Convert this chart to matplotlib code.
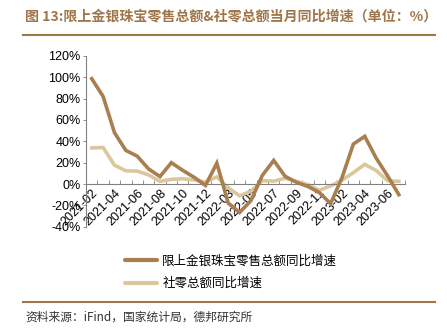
import matplotlib.pyplot as plt
from matplotlib.lines import Line2D

plt.rcParams['font.family'] = ['Liberation Sans', 'Noto Sans CJK SC', 'DejaVu Sans']

# Monthly year-on-year growth (%), Jan folded into Feb
months = ["2021-02", "2021-03", "2021-04", "2021-05", "2021-06", "2021-07", "2021-08",
          "2021-09", "2021-10", "2021-11", "2021-12", "2022-02", "2022-03", "2022-04",
          "2022-05", "2022-06", "2022-07", "2022-08", "2022-09", "2022-10", "2022-11",
          "2022-12", "2023-02", "2023-03", "2023-04", "2023-05", "2023-06", "2023-07"]
jewelry = [98.7, 82.1, 48.1, 31.5, 26.1, 14.1, 7.0, 20.0, 12.8, 6.3, -1.3, 19.5, -17.9, -26.7,
           -15.5, 8.1, 22.1, 7.2, 1.6, -2.3, -7.9, -18.4, 5.9, 37.4, 44.7, 24.4, 7.8, -10.0]
retail = [33.8, 34.2, 17.7, 12.4, 12.1, 8.5, 2.5, 4.4, 4.9, 3.9, 1.7, 6.7, -3.5, -11.1,
          -6.7, 3.1, 2.7, 5.4, 2.5, -0.5, -5.9, -1.8, 3.5, 10.6, 18.4, 12.7, 3.1, 2.5]
yticks = [-40, -20, 0, 20, 40, 60, 80, 100, 120]

dark = "#A97F50"
light = "#DCC79D"
brown = "#A0754A"

fig = plt.figure(figsize=(4.47, 3.35), dpi=100)
ax = fig.add_axes([0.1925, 0.3233, 0.7125, 0.5096])

x = list(range(len(months)))
ax.plot(x, jewelry, color=dark, lw=2.6, solid_joinstyle='miter', zorder=3)
ax.plot(x, retail, color=light, lw=2.6, solid_joinstyle='miter', zorder=2)

ax.set_xlim(-0.5, len(months) - 0.5)
ax.set_ylim(-40, 120)
ax.set_yticks(yticks)
ax.set_yticklabels([f"{v}%" for v in yticks], fontsize=9)
ax.tick_params(axis='y', length=2, width=0.6, color='#808080', pad=2)

for s in ['top', 'right']:
    ax.spines[s].set_visible(False)
ax.spines['left'].set_color('#808080')
ax.spines['left'].set_linewidth(0.8)
ax.spines['bottom'].set_position(('data', 0))
ax.spines['bottom'].set_color('#808080')
ax.spines['bottom'].set_linewidth(0.8)

ax.set_xticks(x[::2])
ax.set_xticklabels(months[::2], rotation=45, ha='right', va='top',
                   rotation_mode='anchor', fontsize=9)
ax.set_xticks([i - 0.5 for i in range(len(months) + 1)], minor=True)
ax.tick_params(axis='x', which='major', length=0, pad=2)
ax.tick_params(axis='x', which='minor', direction='in', length=3, width=0.6, color='#808080')

handles = [Line2D([], [], color=dark, lw=3, solid_capstyle='round'),
           Line2D([], [], color=light, lw=3, solid_capstyle='round')]
fig.legend(handles, ["限上金银珠宝零售总额同比增速", "社零总额同比增速"],
           loc='upper left', bbox_to_anchor=(0.265, 0.258), frameon=False,
           prop={'family': ['Noto Sans CJK SC'], 'size': 9},
           handlelength=2.6, handletextpad=0.4, labelspacing=0.75, borderpad=0)

fig.text(0.056, 0.952, "图 13:限上金银珠宝零售总额&社零总额当月同比增速（单位：%）",
         fontsize=10.1, fontweight='bold', color=brown, ha='left', va='center',
         family=['Noto Sans CJK SC', 'DejaVu Sans'])
fig.add_artist(Line2D([0.052, 0.973], [0.895, 0.895], color=brown, lw=1.5))
fig.add_artist(Line2D([0.052, 0.973], [0.099, 0.099], color=brown, lw=1.5))
fig.text(0.056, 0.054, "资料来源：iFind，国家统计局，德邦研究所", fontsize=8.5,
         color='#333333', ha='left', va='center', family=['Noto Sans CJK SC', 'DejaVu Sans'])

fig.savefig("out.png", dpi=100)
